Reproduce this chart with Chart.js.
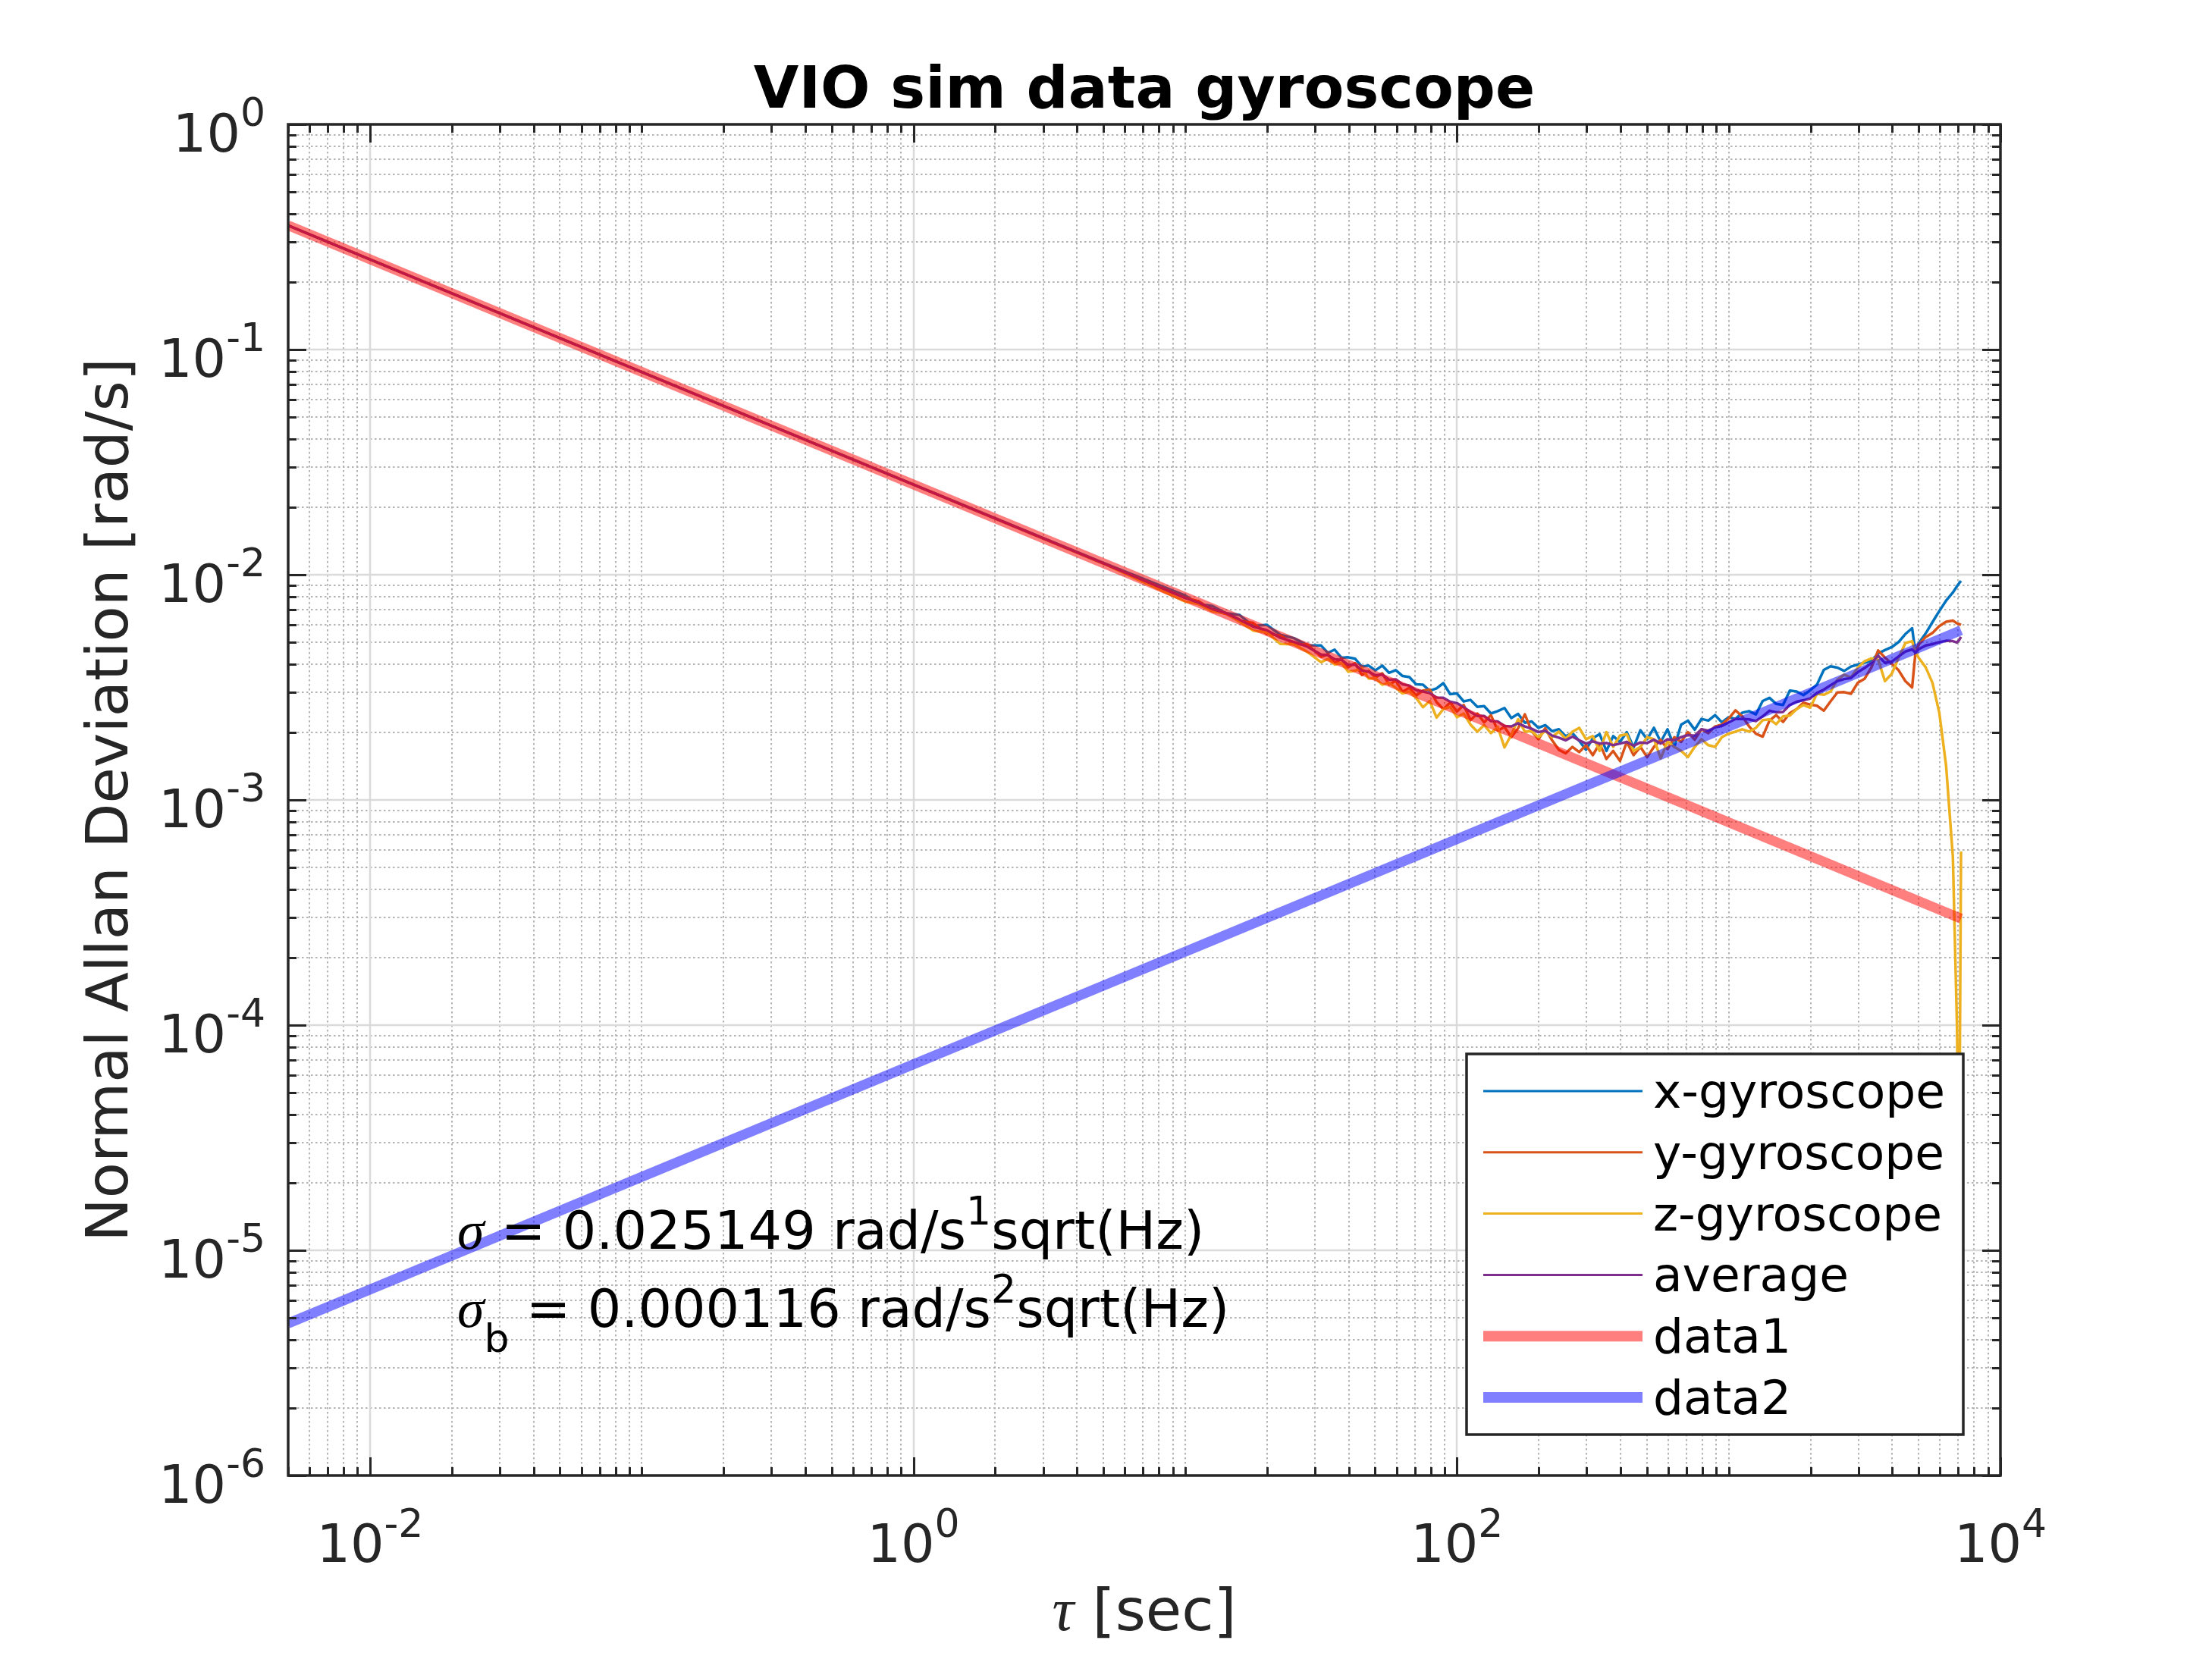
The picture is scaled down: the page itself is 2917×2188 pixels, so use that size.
<!DOCTYPE html>
<html><head><meta charset="utf-8">
<script src="https://cdn.jsdelivr.net/npm/chart.js@4.4.1/dist/chart.umd.min.js"></script>
<style>html,body{margin:0;padding:0;background:#fff}canvas{display:block}</style>
</head><body>
<canvas id="c" width="2917" height="2188" style="width:2917px;height:2188px"></canvas>
<script>
// ---------------- DATA ----------------
const chartTitle = 'VIO sim data gyroscope';
const yAxisTitle = 'Normal Allan Deviation [rad/s]';
const xAxisSymbol = 'τ';
const xAxisUnit = ' [sec]';
const seriesNames = ['x-gyroscope', 'y-gyroscope', 'z-gyroscope', 'average', 'data1', 'data2'];

// averaging time tau [s]
const tau = [0.005, 0.01, 0.1, 1, 5,
  10, 11.22, 12.59, 14.13, 15.85, 17.78, 19.95, 22.39, 25.12, 28.18, 31.62,
  33.50, 35.48, 37.58, 39.81, 42.17, 44.67, 47.32, 50.12, 53.09, 56.23, 59.57, 63.10, 66.83, 70.79, 74.99, 79.43, 84.14, 89.13, 94.41, 100,
  105.9, 112.2, 118.9, 125.9, 133.4, 141.3, 149.6, 158.5, 167.9, 177.8, 188.4, 199.5, 211.3, 223.9, 237.1, 251.2, 266.1, 281.8, 298.5, 316.2,
  335.0, 354.8, 375.8, 398.1, 421.7, 446.7, 473.2, 501.2, 530.9, 562.3, 595.7, 631.0, 668.3, 707.9, 749.9, 794.3, 841.4, 891.3, 944.1, 1000,
  1059, 1122, 1189, 1259, 1334, 1413, 1496, 1585, 1679, 1778, 1884, 1995, 2113, 2239, 2371, 2512, 2661, 2818, 2985, 3162,
  3350, 3548, 3758, 3981, 4217, 4467, 4732, 4870, 5012, 5309, 5623, 5957, 6310, 6683, 6918, 7047, 7161];

const xGyro = [0.3557, 0.2515, 0.0795, 0.02516, 0.01128,
  8.08e-3, 7.40e-3, 7.26e-3, 6.75e-3, 6.63e-3, 5.92e-3, 6.00e-3, 5.41e-3, 5.23e-3, 4.86e-3, 4.85e-3,
  4.50e-3, 4.65e-3, 4.28e-3, 4.30e-3, 4.24e-3, 3.91e-3, 3.95e-3, 3.76e-3, 3.95e-3, 3.67e-3, 3.77e-3, 3.55e-3, 3.51e-3, 3.26e-3, 3.25e-3, 3.05e-3, 3.13e-3, 3.30e-3, 2.95e-3, 2.97e-3,
  2.74e-3, 2.78e-3, 2.59e-3, 2.61e-3, 2.42e-3, 2.48e-3, 2.56e-3, 2.31e-3, 2.41e-3, 2.20e-3, 2.23e-3, 2.09e-3, 2.15e-3, 2.02e-3, 2.06e-3, 1.92e-3, 1.98e-3, 1.83e-3, 1.67e-3, 1.88e-3,
  1.96e-3, 1.65e-3, 1.92e-3, 1.81e-3, 2.00e-3, 1.71e-3, 2.04e-3, 1.86e-3, 2.09e-3, 1.81e-3, 2.06e-3, 1.72e-3, 2.16e-3, 2.25e-3, 2.05e-3, 2.29e-3, 2.25e-3, 2.38e-3, 2.21e-3, 2.33e-3,
  2.29e-3, 2.44e-3, 2.48e-3, 2.40e-3, 2.75e-3, 2.84e-3, 2.67e-3, 2.64e-3, 3.06e-3, 3.03e-3, 2.92e-3, 3.07e-3, 3.25e-3, 3.78e-3, 3.92e-3, 3.87e-3, 3.74e-3, 3.91e-3, 3.99e-3, 4.07e-3,
  4.15e-3, 4.47e-3, 4.63e-3, 4.77e-3, 5.02e-3, 5.45e-3, 5.79e-3, 4.48e-3, 4.98e-3, 5.49e-3, 6.16e-3, 6.90e-3, 7.67e-3, 8.34e-3, 8.88e-3, 9.17e-3, 9.39e-3];

const yGyro = [0.3557, 0.2515, 0.0795, 0.02514, 0.01123,
  7.89e-3, 7.63e-3, 6.93e-3, 6.70e-3, 6.23e-3, 6.11e-3, 5.46e-3, 5.37e-3, 4.91e-3, 4.90e-3, 4.32e-3,
  4.43e-3, 4.05e-3, 4.22e-3, 3.88e-3, 4.05e-3, 3.59e-3, 3.74e-3, 3.50e-3, 3.65e-3, 3.26e-3, 3.38e-3, 3.02e-3, 3.15e-3, 2.91e-3, 3.06e-3, 3.09e-3, 2.72e-3, 2.53e-3, 2.71e-3, 2.47e-3,
  2.64e-3, 2.26e-3, 2.42e-3, 2.21e-3, 2.38e-3, 2.03e-3, 2.11e-3, 1.90e-3, 2.08e-3, 2.40e-3, 2.02e-3, 1.86e-3, 2.08e-3, 1.84e-3, 1.67e-3, 1.61e-3, 1.72e-3, 1.63e-3, 1.75e-3, 1.58e-3,
  1.78e-3, 1.52e-3, 1.65e-3, 1.49e-3, 1.81e-3, 1.58e-3, 1.72e-3, 1.55e-3, 1.72e-3, 1.85e-3, 1.68e-3, 1.90e-3, 1.81e-3, 2.00e-3, 1.85e-3, 2.06e-3, 1.98e-3, 2.12e-3, 2.16e-3, 2.30e-3,
  2.50e-3, 2.35e-3, 2.12e-3, 1.97e-3, 1.91e-3, 2.25e-3, 2.38e-3, 2.22e-3, 2.43e-3, 2.53e-3, 2.70e-3, 2.65e-3, 2.62e-3, 2.49e-3, 2.74e-3, 3.00e-3, 3.01e-3, 2.96e-3, 3.31e-3, 3.45e-3,
  3.87e-3, 4.61e-3, 4.29e-3, 4.02e-3, 3.77e-3, 3.37e-3, 3.16e-3, 4.54e-3, 4.91e-3, 5.29e-3, 5.52e-3, 5.91e-3, 6.18e-3, 6.26e-3, 6.08e-3, 6.04e-3, 5.99e-3];

const zGyro = [0.3557, 0.2514, 0.0795, 0.02513, 0.01121,
  7.60e-3, 7.40e-3, 6.87e-3, 6.75e-3, 6.18e-3, 5.65e-3, 5.55e-3, 4.93e-3, 4.91e-3, 4.54e-3, 4.09e-3,
  4.23e-3, 3.99e-3, 4.06e-3, 3.71e-3, 3.75e-3, 3.85e-3, 3.46e-3, 3.47e-3, 3.25e-3, 3.31e-3, 3.15e-3, 2.97e-3, 3.03e-3, 2.84e-3, 2.58e-3, 2.75e-3, 2.32e-3, 2.53e-3, 2.59e-3, 2.33e-3,
  2.42e-3, 2.16e-3, 2.01e-3, 2.15e-3, 1.98e-3, 2.11e-3, 1.71e-3, 1.95e-3, 2.28e-3, 2.01e-3, 2.02e-3, 1.90e-3, 2.03e-3, 1.90e-3, 2.01e-3, 1.87e-3, 2.01e-3, 2.09e-3, 1.86e-3, 1.92e-3,
  1.65e-3, 2.00e-3, 1.72e-3, 1.93e-3, 1.96e-3, 1.65e-3, 1.72e-3, 1.90e-3, 1.86e-3, 1.53e-3, 1.82e-3, 1.72e-3, 1.65e-3, 1.55e-3, 1.72e-3, 1.86e-3, 1.75e-3, 1.72e-3, 1.90e-3, 1.97e-3,
  2.01e-3, 2.06e-3, 2.01e-3, 2.09e-3, 2.26e-3, 2.28e-3, 2.17e-3, 2.35e-3, 2.37e-3, 2.53e-3, 2.64e-3, 2.57e-3, 2.96e-3, 2.93e-3, 3.03e-3, 3.42e-3, 3.60e-3, 3.50e-3, 3.87e-3, 4.13e-3,
  4.25e-3, 4.20e-3, 3.37e-3, 3.63e-3, 4.27e-3, 4.97e-3, 5.07e-3, 4.54e-3, 4.26e-3, 3.88e-3, 3.31e-3, 2.44e-3, 1.42e-3, 5.58e-4, 1.00e-4, 2.0e-5, 5.9e-4];

const avgGyro = [0.3557, 0.2515, 0.0795, 0.02514, 0.01124,
  7.89e-3, 7.51e-3, 7.04e-3, 6.75e-3, 6.32e-3, 5.88e-3, 5.68e-3, 5.25e-3, 5.03e-3, 4.79e-3, 4.42e-3,
  4.40e-3, 4.21e-3, 4.19e-3, 3.98e-3, 3.99e-3, 3.76e-3, 3.71e-3, 3.58e-3, 3.60e-3, 3.42e-3, 3.43e-3, 3.26e-3, 3.22e-3, 3.07e-3, 3.03e-3, 2.98e-3, 2.85e-3, 2.84e-3, 2.73e-3, 2.69e-3,
  2.58e-3, 2.46e-3, 2.36e-3, 2.36e-3, 2.24e-3, 2.23e-3, 2.13e-3, 2.12e-3, 2.19e-3, 2.12e-3, 2.07e-3, 2.00e-3, 2.03e-3, 1.93e-3, 1.89e-3, 1.84e-3, 1.91e-3, 1.84e-3, 1.78e-3, 1.82e-3,
  1.78e-3, 1.79e-3, 1.75e-3, 1.78e-3, 1.81e-3, 1.74e-3, 1.80e-3, 1.79e-3, 1.85e-3, 1.78e-3, 1.86e-3, 1.84e-3, 1.90e-3, 1.94e-3, 1.93e-3, 2.06e-3, 2.03e-3, 2.10e-3, 2.13e-3, 2.21e-3,
  2.29e-3, 2.29e-3, 2.28e-3, 2.24e-3, 2.35e-3, 2.49e-3, 2.45e-3, 2.46e-3, 2.64e-3, 2.73e-3, 2.77e-3, 2.82e-3, 2.99e-3, 3.09e-3, 3.23e-3, 3.37e-3, 3.44e-3, 3.48e-3, 3.69e-3, 3.85e-3,
  4.05e-3, 4.37e-3, 4.06e-3, 4.11e-3, 4.33e-3, 4.56e-3, 4.66e-3, 4.51e-3, 4.68e-3, 4.85e-3, 4.92e-3, 5.02e-3, 5.09e-3, 5.07e-3, 5.00e-3, 5.13e-3, 5.30e-3];

// fitted lines (white noise / rate random walk)
const fitTau = [0.005, 7161];
const fitData1 = [0.3557, 2.972e-4];
const fitData2 = [4.736e-6, 5.667e-3];

// axis ranges and tick labels
const xRange = [0.005, 10000];
const yRange = [1e-6, 1];
const xTickValues = [0.01, 1, 100, 10000];
const xTickExps = ['-2', '0', '2', '4'];
const yTickValues = [1e-6, 1e-5, 1e-4, 1e-3, 1e-2, 1e-1, 1];
const yTickExps = ['-6', '-5', '-4', '-3', '-2', '-1', '0'];

// annotation text
const annot1 = [['σ', 'sym'], [' = 0.025149 rad/s', 'main'], ['1', 'sup'], ['sqrt(Hz)', 'main']];
const annot2 = [['σ', 'sym'], ['b', 'sub'], [' = 0.000116 rad/s', 'main'], ['2', 'sup'], ['sqrt(Hz)', 'main']];

// ---------------- STYLE ----------------
const COLORS = ['#0072BD', '#D95319', '#EDB120', '#7E2F8E', 'rgba(255,0,0,0.5)', 'rgba(0,0,255,0.5)'];
const AXIS = '#262626';
const SANS = '"DejaVu Sans", sans-serif';
const SERIF = '"Liberation Serif", "DejaVu Serif", serif';
const TICK_FS = 70, SUP_FS = 52, LABEL_FS = 77, TITLE_FS = 77, LEG_FS = 63;

// minor/major grid positions (1..9 x 10^k)
function gridValues(lo, hi, majorTest) {
  const out = [];
  for (let e = Math.floor(Math.log10(lo)) - 1; e <= Math.ceil(Math.log10(hi)); e++) {
    for (let m = 1; m <= 9; m++) {
      const v = parseFloat((m * Math.pow(10, e)).toPrecision(6));
      if (v >= lo * 0.9999 && v <= hi * 1.0001) {
        out.push({ value: v, major: m === 1 && majorTest(e) });
      }
    }
  }
  return out;
}
const xGrid = gridValues(xRange[0], xRange[1], e => e % 2 === 0);
const yGrid = gridValues(yRange[0], yRange[1], e => true);

const pts = (xs, ys) => xs.map((t, i) => ({ x: t, y: ys[i] }));

function drawParts(ctx, x, y, parts) {
  let cx = x;
  for (const [txt, kind] of parts) {
    let dy = 0;
    if (kind === 'sym') ctx.font = `italic 72px ${SERIF}`;
    else if (kind === 'main') ctx.font = `${TICK_FS}px ${SANS}`;
    else if (kind === 'sup') { ctx.font = `${SUP_FS}px ${SANS}`; dy = -32; }
    else if (kind === 'sub') { ctx.font = `${SUP_FS}px ${SANS}`; dy = 33; }
    ctx.fillText(txt, cx, y + dy);
    cx += ctx.measureText(txt).width;
  }
}

const gridPlugin = {
  id: 'matlabGrid',
  beforeDatasetsDraw(chart) {
    const ctx = chart.ctx, a = chart.chartArea, xs = chart.scales.x, ys = chart.scales.y;
    ctx.save();
    ctx.beginPath(); ctx.rect(a.left, a.top, a.right - a.left, a.bottom - a.top); ctx.clip();
    // minor (dotted)
    ctx.strokeStyle = '#B4B4B4'; ctx.lineWidth = 2; ctx.setLineDash([2.5, 3.5]);
    ctx.beginPath();
    xs.ticks.forEach(t => { if (!t.major) { const p = Math.round(xs.getPixelForValue(t.value)); ctx.moveTo(p, a.top); ctx.lineTo(p, a.bottom); } });
    ys.ticks.forEach(t => { if (!t.major) { const p = Math.round(ys.getPixelForValue(t.value)); ctx.moveTo(a.left, p); ctx.lineTo(a.right, p); } });
    ctx.stroke();
    // major (solid, light)
    ctx.setLineDash([]);
    ctx.strokeStyle = '#DADADA'; ctx.lineWidth = 2.5;
    ctx.beginPath();
    xs.ticks.forEach(t => { if (t.major) { const p = Math.round(xs.getPixelForValue(t.value)); ctx.moveTo(p, a.top); ctx.lineTo(p, a.bottom); } });
    ys.ticks.forEach(t => { if (t.major) { const p = Math.round(ys.getPixelForValue(t.value)); ctx.moveTo(a.left, p); ctx.lineTo(a.right, p); } });
    ctx.stroke();
    ctx.restore();
  }
};

const decor = {
  id: 'decor',
  afterDraw(chart) {
    const ctx = chart.ctx, a = chart.chartArea, xs = chart.scales.x, ys = chart.scales.y;
    ctx.save();
    // ticks (inward, all four sides)
    ctx.strokeStyle = AXIS; ctx.lineWidth = 3;
    ctx.beginPath();
    xs.ticks.forEach(t => {
      const p = Math.round(xs.getPixelForValue(t.value)) + 0.5;
      const L = t.major ? 24 : 11;
      ctx.moveTo(p, a.bottom); ctx.lineTo(p, a.bottom - L);
      ctx.moveTo(p, a.top); ctx.lineTo(p, a.top + L);
    });
    ys.ticks.forEach(t => {
      const p = Math.round(ys.getPixelForValue(t.value)) + 0.5;
      const L = t.major ? 24 : 11;
      ctx.moveTo(a.left, p); ctx.lineTo(a.left + L, p);
      ctx.moveTo(a.right, p); ctx.lineTo(a.right - L, p);
    });
    ctx.stroke();
    ctx.lineWidth = 3.5;
    ctx.strokeRect(a.left, a.top, a.right - a.left, a.bottom - a.top);

    // tick labels
    ctx.fillStyle = AXIS;
    ctx.textBaseline = 'alphabetic';
    ctx.textAlign = 'left';
    xTickValues.forEach((v, i) => {
      const p = xs.getPixelForValue(v);
      ctx.font = `${TICK_FS}px ${SANS}`; const wm = ctx.measureText('10').width;
      ctx.font = `${SUP_FS}px ${SANS}`; const we = ctx.measureText(xTickExps[i]).width;
      const x0 = p - (wm + we) / 2;
      ctx.font = `${TICK_FS}px ${SANS}`; ctx.fillText('10', x0, a.bottom + 114);
      ctx.font = `${SUP_FS}px ${SANS}`; ctx.fillText(xTickExps[i], x0 + wm, a.bottom + 81);
    });
    yTickValues.forEach((v, i) => {
      const p = ys.getPixelForValue(v);
      ctx.font = `${SUP_FS}px ${SANS}`; const we = ctx.measureText(yTickExps[i]).width;
      ctx.font = `${TICK_FS}px ${SANS}`; const wm = ctx.measureText('10').width;
      const xr = a.left - 30;
      ctx.font = `${TICK_FS}px ${SANS}`; ctx.fillText('10', xr - we - wm, p + 36);
      ctx.font = `${SUP_FS}px ${SANS}`; ctx.fillText(yTickExps[i], xr - we, p + 2);
    });

    // axis titles
    const cxp = (a.left + a.right) / 2, cyp = (a.top + a.bottom) / 2;
    ctx.font = `italic 80px ${SERIF}`; const w1 = ctx.measureText(xAxisSymbol).width;
    ctx.font = `${LABEL_FS}px ${SANS}`; const w2 = ctx.measureText(xAxisUnit).width;
    const xs0 = cxp - (w1 + w2) / 2;
    ctx.font = `italic 80px ${SERIF}`; ctx.fillText(xAxisSymbol, xs0, a.bottom + 204);
    ctx.font = `${LABEL_FS}px ${SANS}`; ctx.fillText(xAxisUnit, xs0 + w1, a.bottom + 204);

    ctx.save();
    ctx.translate(168, cyp);
    ctx.rotate(-Math.PI / 2);
    ctx.textAlign = 'center';
    ctx.font = `${LABEL_FS}px ${SANS}`;
    ctx.fillText(yAxisTitle, 0, 0);
    ctx.restore();

    // title
    ctx.fillStyle = '#000';
    ctx.textAlign = 'center';
    ctx.font = `bold ${TITLE_FS}px ${SANS}`;
    ctx.fillText(chartTitle, cxp, a.top - 22);

    // annotation
    ctx.textAlign = 'left';
    ctx.fillStyle = '#000';
    drawParts(ctx, a.left + 223, a.top + 1483, annot1);
    drawParts(ctx, a.left + 223, a.top + 1586, annot2);

    // legend
    const bx = a.left + 1554, by = a.top + 1226, bw = 655, bh = 502;
    ctx.fillStyle = '#fff';
    ctx.fillRect(bx, by, bw, bh);
    ctx.strokeStyle = AXIS; ctx.lineWidth = 3.5;
    ctx.strokeRect(bx, by, bw, bh);
    chart.data.datasets.forEach((ds, i) => {
      const ry = by + 49 + i * 80.8;
      ctx.beginPath();
      ctx.strokeStyle = ds.borderColor;
      ctx.lineWidth = ds.borderWidth > 5 ? 14 : 3;
      ctx.lineCap = 'butt';
      ctx.moveTo(bx + 22, ry); ctx.lineTo(bx + 232, ry);
      ctx.stroke();
      ctx.fillStyle = '#000';
      ctx.font = `${LEG_FS}px ${SANS}`;
      ctx.textAlign = 'left';
      ctx.fillText(ds.label, bx + 246, ry + 22);
    });
    ctx.restore();
  }
};

const orders = [5, 4, 3, 2, 1, 0];
const seriesData = [xGyro, yGyro, zGyro, avgGyro];
const datasets = seriesData.map((ys, i) => ({
  label: seriesNames[i], data: pts(tau, ys), borderColor: COLORS[i], backgroundColor: COLORS[i],
  borderWidth: 3.5, order: orders[i], clip: 0, borderJoinStyle: 'round'
}));
datasets.push({ label: seriesNames[4], data: pts(fitTau, fitData1), borderColor: COLORS[4], backgroundColor: COLORS[4], borderWidth: 13, order: orders[4], clip: 0 });
datasets.push({ label: seriesNames[5], data: pts(fitTau, fitData2), borderColor: COLORS[5], backgroundColor: COLORS[5], borderWidth: 13, order: orders[5], clip: 0 });

new Chart(document.getElementById('c').getContext('2d'), {
  type: 'line',
  data: { datasets },
  options: {
    responsive: false, animation: false, devicePixelRatio: 1,
    layout: { padding: { left: 380, top: 164, right: 279, bottom: 242 } },
    elements: { point: { radius: 0, hoverRadius: 0 }, line: { tension: 0, fill: false } },
    plugins: { legend: { display: false }, title: { display: false }, tooltip: { enabled: false } },
    events: [],
    scales: {
      x: {
        type: 'logarithmic', min: xRange[0], max: xRange[1],
        afterBuildTicks: s => { s.ticks = xGrid.map(t => ({ value: t.value, major: t.major })); },
        ticks: { display: false },
        grid: { display: false, drawTicks: false },
        border: { display: false }
      },
      y: {
        type: 'logarithmic', min: yRange[0], max: yRange[1],
        afterBuildTicks: s => { s.ticks = yGrid.map(t => ({ value: t.value, major: t.major })); },
        ticks: { display: false },
        grid: { display: false, drawTicks: false },
        border: { display: false }
      }
    }
  },
  plugins: [gridPlugin, decor]
});
</script>
</body></html>
